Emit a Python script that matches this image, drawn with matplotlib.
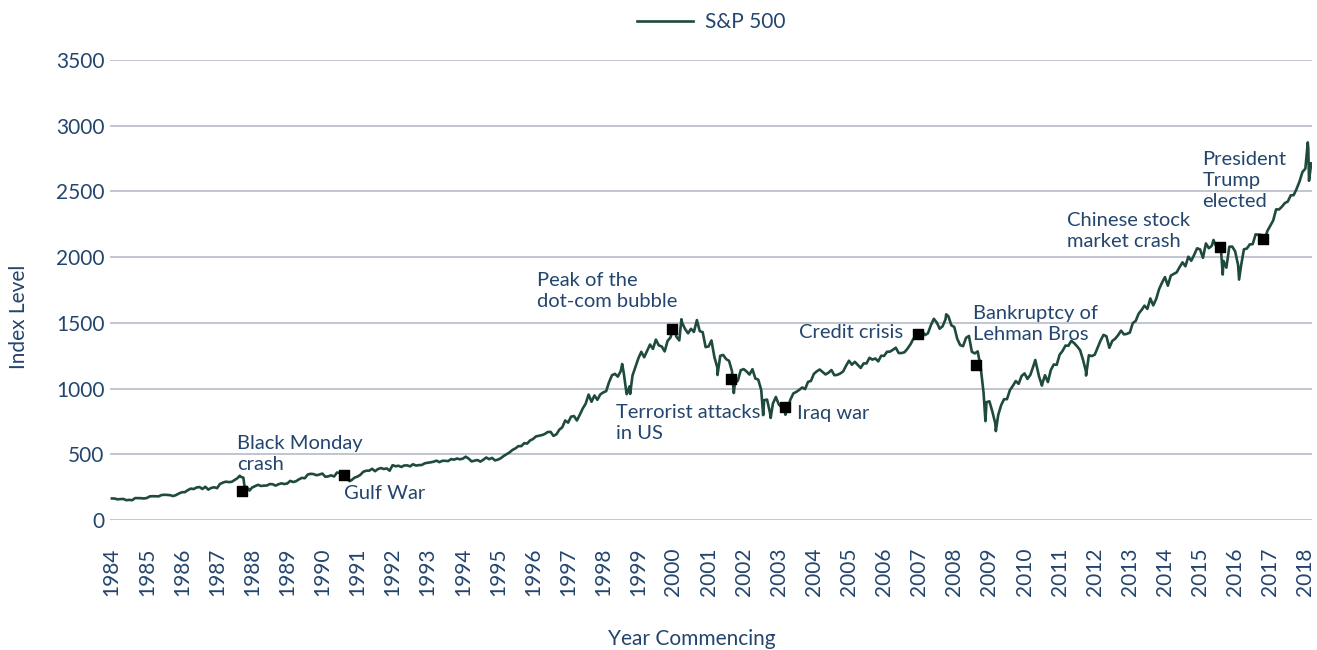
import numpy as np
import pandas as pd
import matplotlib
matplotlib.use('Agg')
import matplotlib.pyplot as plt

plt.rcParams['font.family'] = ['Lato', 'DejaVu Sans']

# =================================================================
#   S&P 500 - fechamentos mensais (jan/1984 .. fev/2018), estimados
# =================================================================
month_end_close = [
    163.4, 157.1, 159.2, 160.1, 150.6, 153.2, 150.7, 166.7, 166.1, 166.1, 163.6, 167.2,   # 1984
    179.6, 181.2, 180.7, 179.8, 189.6, 191.9, 190.9, 188.6, 182.1, 189.8, 202.2, 211.3,   # 1985
    211.8, 226.9, 238.9, 235.5, 247.4, 250.8, 236.1, 252.9, 231.3, 244.0, 249.2, 242.2,   # 1986
    274.1, 284.2, 291.7, 288.4, 290.1, 304.0, 318.7, 329.8, 321.8, 251.8, 230.3, 247.1,   # 1987
    257.1, 267.8, 258.9, 261.3, 262.2, 273.5, 272.0, 261.5, 271.9, 279.0, 273.7, 277.7,   # 1988
    297.5, 288.9, 294.9, 309.6, 320.5, 318.0, 346.1, 351.5, 349.2, 340.4, 346.0, 353.4,   # 1989
    329.1, 331.9, 339.9, 330.8, 361.2, 358.0, 356.2, 322.6, 306.1, 304.0, 322.2, 330.2,   # 1990
    343.9, 367.1, 375.2, 375.3, 389.8, 371.2, 387.8, 395.4, 387.9, 392.5, 375.2, 417.1,   # 1991
    408.8, 412.7, 403.7, 415.0, 415.4, 408.1, 424.2, 414.0, 417.8, 418.7, 431.4, 435.7,   # 1992
    438.8, 443.4, 451.7, 440.2, 450.2, 450.5, 448.1, 463.6, 458.9, 467.8, 461.8, 466.5,   # 1993
    481.6, 467.1, 445.8, 450.9, 456.5, 444.3, 458.3, 475.5, 462.7, 472.4, 453.7, 459.3,   # 1994
    470.4, 487.4, 500.7, 514.7, 533.4, 544.8, 562.1, 561.9, 584.4, 581.5, 605.4, 615.9,   # 1995
    636.0, 640.4, 645.5, 654.2, 669.1, 670.6, 640.0, 652.0, 687.3, 705.3, 757.0, 740.7,   # 1996
    786.2, 790.8, 757.1, 801.3, 848.3, 885.1, 954.3, 899.5, 947.3, 914.6, 955.4, 970.4,   # 1997
    980.3, 1049.3, 1101.8, 1111.8, 1090.8, 1133.8, 1120.7, 957.3, 1017.0, 1098.7, 1163.6, 1229.2,   # 1998
    1279.6, 1238.3, 1286.4, 1335.2, 1301.8, 1372.7, 1328.7, 1320.4, 1282.7, 1362.9, 1389.0, 1469.3,  # 1999
    1394.5, 1366.4, 1498.6, 1452.4, 1420.6, 1454.6, 1430.8, 1517.7, 1436.5, 1429.4, 1315.2, 1320.3,  # 2000
    1366.0, 1239.9, 1160.3, 1249.5, 1255.8, 1224.4, 1211.2, 1133.6, 1040.9, 1059.8, 1139.5, 1148.1,  # 2001
    1130.2, 1106.7, 1147.4, 1076.9, 1067.1, 989.8, 911.6, 916.1, 815.3, 885.8, 936.3, 879.8,         # 2002
    855.7, 841.2, 848.2, 916.9, 963.6, 974.5, 990.3, 1008.0, 996.0, 1050.7, 1058.2, 1111.9,          # 2003
    1131.1, 1144.9, 1126.2, 1107.3, 1120.7, 1140.8, 1101.7, 1104.2, 1114.6, 1130.2, 1173.8, 1211.9,  # 2004
    1181.3, 1203.6, 1180.6, 1156.9, 1191.5, 1191.3, 1234.2, 1220.3, 1228.8, 1207.0, 1249.5, 1248.3,  # 2005
    1280.1, 1280.7, 1294.9, 1310.6, 1270.1, 1270.2, 1276.7, 1303.8, 1335.9, 1377.9, 1400.6, 1418.3,  # 2006
    1438.2, 1406.8, 1420.9, 1482.4, 1530.6, 1503.4, 1455.3, 1474.0, 1526.8, 1549.4, 1481.1, 1468.4,  # 2007
    1378.6, 1330.6, 1322.7, 1385.6, 1400.4, 1280.0, 1267.4, 1282.8, 1166.4, 968.8, 896.2, 903.3,     # 2008
    825.9, 735.1, 797.9, 872.8, 919.1, 919.3, 987.5, 1020.6, 1057.1, 1036.2, 1095.6, 1115.1,         # 2009
    1073.9, 1104.5, 1169.4, 1186.7, 1089.4, 1030.7, 1101.6, 1049.3, 1141.2, 1183.3, 1180.6, 1257.6,  # 2010
    1286.1, 1327.2, 1325.8, 1363.6, 1345.2, 1320.6, 1292.3, 1218.9, 1131.4, 1253.3, 1247.0, 1257.6,  # 2011
    1312.4, 1365.7, 1408.5, 1397.9, 1310.3, 1362.2, 1379.3, 1406.6, 1440.7, 1412.2, 1416.2, 1426.2,  # 2012
    1498.1, 1514.7, 1569.2, 1597.6, 1630.7, 1606.3, 1685.7, 1633.0, 1681.6, 1756.5, 1805.8, 1848.4,  # 2013
    1782.6, 1859.5, 1872.3, 1884.0, 1923.6, 1960.2, 1930.7, 2003.4, 1972.3, 2018.1, 2067.6, 2058.9,  # 2014
    1995.0, 2104.5, 2067.9, 2085.5, 2107.4, 2063.1, 2103.8, 1972.2, 1920.0, 2079.4, 2080.4, 2043.9,  # 2015
    1940.2, 1932.2, 2059.7, 2065.3, 2097.0, 2098.9, 2173.6, 2171.0, 2168.3, 2126.2, 2198.8, 2238.8,  # 2016
    2278.9, 2363.6, 2362.7, 2384.2, 2411.8, 2423.4, 2470.3, 2471.7, 2519.4, 2575.3, 2647.6, 2673.6,  # 2017
    2823.8, 2713.8,                                                                                  # 2018
]

# picos / vales intra-mensais visíveis no gráfico
spike_dates = ['1984-01-03', '1987-08-25', '1987-10-19', '1987-12-04', '1990-07-16',
               '1990-10-11', '1998-07-17', '1998-10-08', '2000-03-24', '2000-09-01',
               '2001-04-04', '2001-09-21', '2002-07-23', '2002-10-09', '2003-03-11',
               '2007-10-09', '2008-11-20', '2009-03-09', '2010-04-23', '2010-07-02',
               '2011-10-03', '2015-05-21', '2015-08-25', '2016-02-11', '2018-01-26',
               '2018-02-08']
spike_values = [164.0, 336.8, 224.8, 223.9, 369.0,
                295.5, 1186.8, 959.4, 1527.5, 1520.8,
                1103.3, 965.8, 797.7, 776.8, 800.7,
                1565.2, 752.4, 676.5, 1217.3, 1022.6,
                1099.2, 2130.8, 1867.6, 1829.1, 2872.9,
                2581.0]

# eventos marcados (ano decimal, nível)
event_labels = ['Black Monday\ncrash', 'Gulf War', 'Peak of the\ndot-com bubble',
                'Terrorist attacks\nin US', 'Iraq war', 'Credit crisis',
                'Bankruptcy of\nLehman Bros', 'Chinese stock\nmarket crash',
                'President\nTrump\nelected']
event_years = [1987.72, 1990.62, 1999.95, 2001.63, 2003.17, 2006.96, 2008.63, 2015.57, 2016.78]
event_values = [223, 342, 1454, 1075, 862, 1416, 1180, 2080, 2136]

# posição dos textos (canto esquerdo, centro vertical)
label_pos = [(1987.56, 502), (1990.61, 205), (1996.11, 1739), (1998.35, 738),
             (2003.51, 814), (2003.57, 1423), (2008.52, 1492), (2011.20, 2196),
             (2015.07, 2580)]

years = np.arange(1984, 2019)
y_ticks = np.arange(0, 3501, 500)

# =================================================================
#               SÉRIE
# =================================================================
def dec_year(ts):
    return ts.year + (ts.dayofyear - 1) / 365.25

x_month = 1984 + (np.arange(len(month_end_close)) + 1) / 12.0
x_spike = np.array([dec_year(pd.Timestamp(d)) for d in spike_dates])
serie = pd.Series(list(month_end_close) + spike_values,
                  index=list(x_month) + list(x_spike)).sort_index()

# =================================================================
#               VISUALIZAÇÃO
# =================================================================
txt = '#23456e'
line_c = '#1f4a3d'

fig = plt.figure(figsize=(13.17, 6.5), dpi=100)
ax = fig.add_axes([0.0835, 0.2, 0.913, 0.7077])

ax.plot(serie.index, serie.values, color=line_c, lw=1.9, label='S&P 500', zorder=3)
ax.scatter(event_years, event_values, marker='s', s=55, color='black', zorder=5)
for lab, (lx, ly) in zip(event_labels, label_pos):
    ax.text(lx, ly, lab, fontsize=14.5, color=txt, ha='left', va='center', linespacing=1.28, zorder=6)

ax.set_xlim(1983.95, 2018.2)
ax.set_ylim(0, 3500)
ax.set_yticks(y_ticks)
ax.set_xticks(years)
ax.set_xticklabels([str(y) for y in years], rotation=90)
ax.tick_params(axis='both', length=0, labelsize=15, labelcolor=txt)
ax.tick_params(axis='x', pad=20)
ax.tick_params(axis='y', pad=4)
ax.grid(axis='y', color='#bcc2ca', lw=1.3)
ax.set_axisbelow(True)
for s in ax.spines.values():
    s.set_visible(False)

ax.legend(loc='center', bbox_to_anchor=(0.5, 1.083), frameon=False, fontsize=15,
          labelcolor=txt, handlelength=2.7, handletextpad=0.6)

fig.text(0.0148, 0.512, 'Index Level', rotation=90, fontsize=15, color=txt, ha='center', va='center')
fig.text(0.525, 0.017, 'Year Commencing', fontsize=15, color=txt, ha='center', va='center')

fig.savefig('out.png', dpi=100)
